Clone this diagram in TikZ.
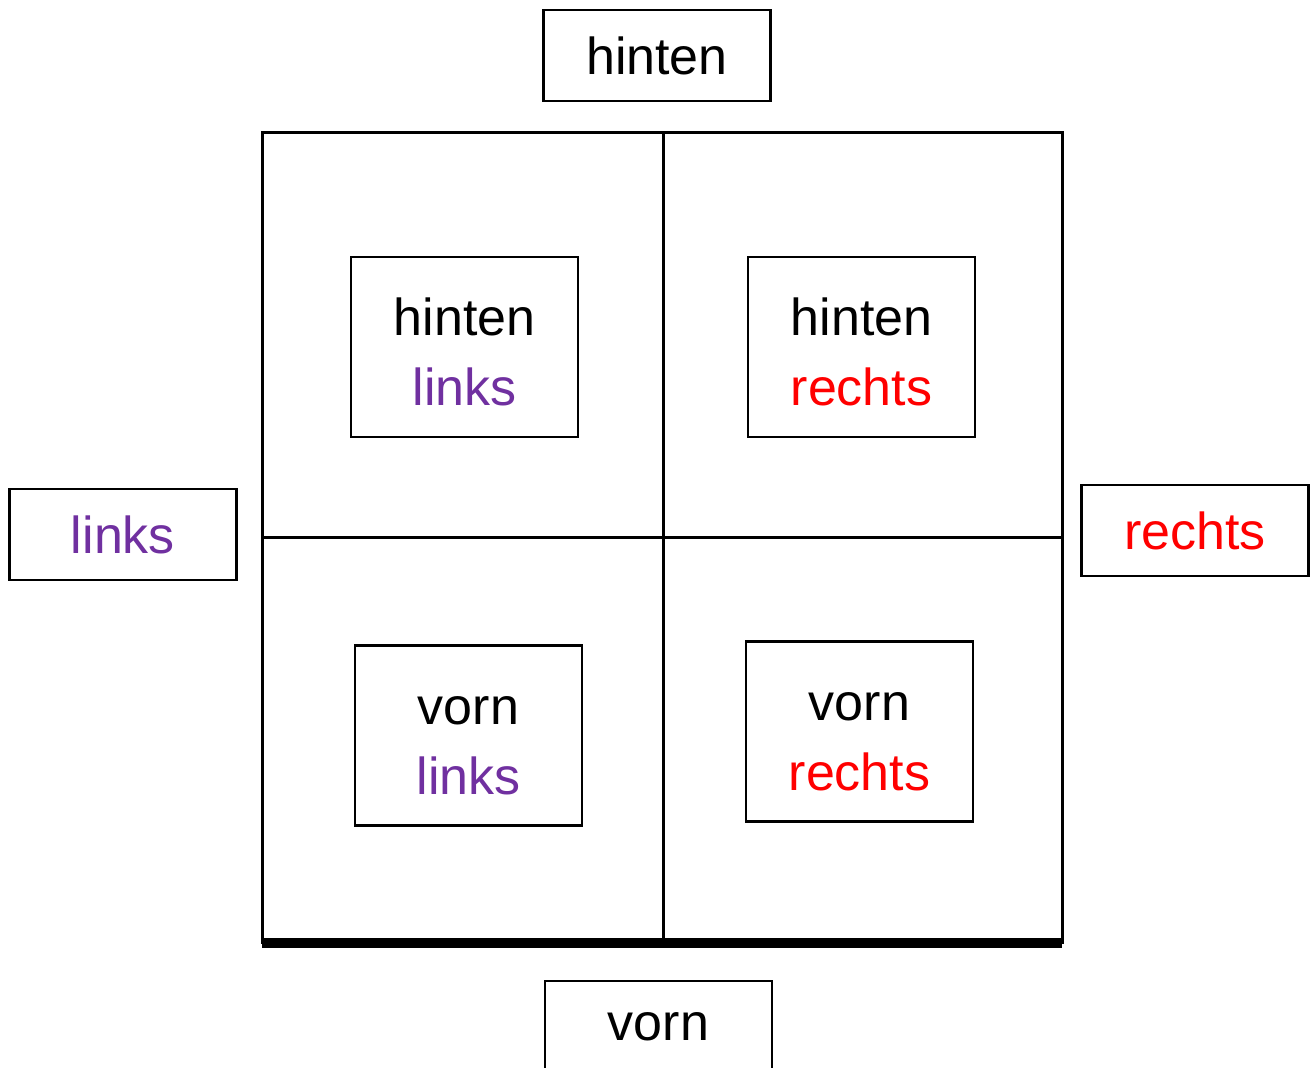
\documentclass[tikz,border=0pt]{standalone}
\usepackage{fontspec}
\setmainfont{Liberation Sans}
\usetikzlibrary{positioning}
\definecolor{lkpurple}{RGB}{112,48,160}
\definecolor{rered}{RGB}{255,0,0}
\newcommand{\cellstrut}{\rule{0pt}{24pt}}
\tikzset{
  lbl/.style={
    draw=black, line width=1.4pt, align=center, inner sep=0pt,
    minimum width=113.5pt, minimum height=45.5pt
  },
  cell/.style={lbl, minimum height=90pt},
  grid/.style={draw=black, line width=1.5pt},
  lk/.style={text=lkpurple},
  re/.style={text=rered},
  every picture/.append style={font=\fontsize{26}{35}\selectfont}
}
\begin{document}
\begin{tikzpicture}[x=0.5pt, y=-0.5pt]
  \useasboundingbox (0,0) rectangle (1314,1068);
  \clip (0,0) rectangle (1314,1068);
  % field
  \draw[grid] (262,133) rectangle (1062,943);
  \draw[grid] (663,133) -- (663,943);
  \draw[grid] (262,538) -- (1062,538);
  \draw[line width=5pt] (262,943) -- (1062,943);
  % sides
  \node[lbl] (back) at (657,55.5) {hinten};
  \node[lbl] (front) at (658.5,1026.5) {vorn};
  \node[lbl, lk] (left) at (123,534.5) {links};
  \node[lbl, re] (right) at (1195,530.5) {rechts};
  % quarters
  \node[cell] (bl) at (464.5,347) {\cellstrut hinten\\{\color{lkpurple}links}};
  \node[cell] (br) at (861.5,347) {\cellstrut hinten\\{\color{rered}rechts}};
  \node[cell] (fl) at (468.5,735.5) {\cellstrut vorn\\{\color{lkpurple}links}};
  \node[cell] (fr) at (859.5,731.5) {\cellstrut vorn\\{\color{rered}rechts}};
\end{tikzpicture}
\end{document}
